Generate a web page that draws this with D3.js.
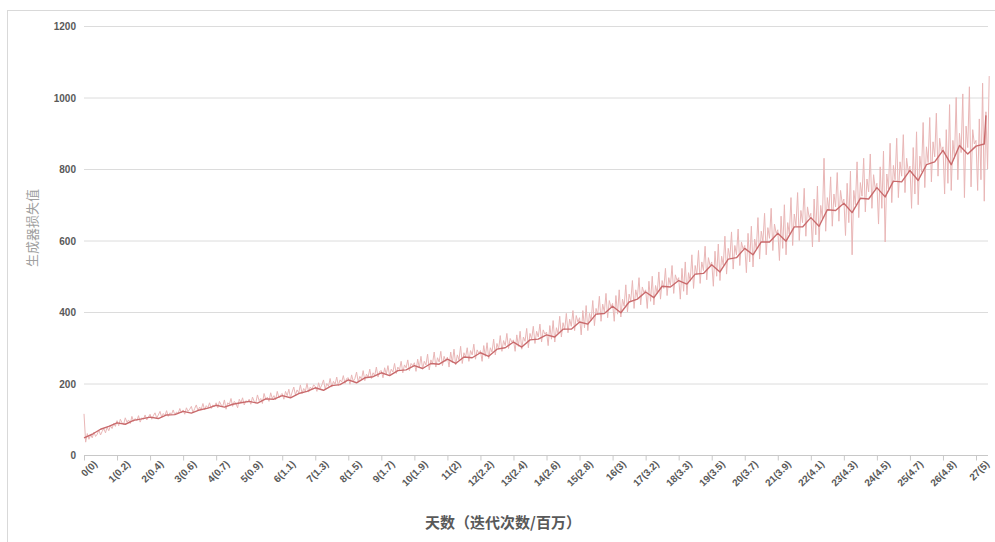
<!DOCTYPE html>
<html>
<head>
<meta charset="utf-8">
<script src="https://cdn.jsdelivr.net/npm/d3@7"></script>
<style>
  html, body { margin: 0; padding: 0; background: #fff; }
  svg { display: block; }
  .tick text { font-family: "Liberation Sans", Arial, sans-serif; }
</style>
</head>
<body>
<div id="chart"></div>
<script>
// day labels on the x axis: day(iterations in millions)
var dayLabels = ['0(0)', '1(0.2)', '2(0.4)', '3(0.6)', '4(0.7)', '5(0.9)', '6(1.1)', '7(1.3)',
  '8(1.5)', '9(1.7)', '10(1.9)', '11(2)', '12(2.2)', '13(2.4)', '14(2.6)', '15(2.8)', '16(3)',
  '17(3.2)', '18(3.3)', '19(3.5)', '20(3.7)', '21(3.9)', '22(4.1)', '23(4.3)', '24(4.5)',
  '25(4.7)', '26(4.8)', '27(5)'];

var yTicks = [0, 200, 400, 600, 800, 1000, 1200];

// raw generator loss, sampled every 0.05 day (one row per day)
var rawStep = 0.05;
var rawLoss = [
  115, 36, 60, 44, 56, 48, 64, 52, 58, 70, 56, 66, 74, 62, 78, 68, 82, 74, 88, 80,
  96, 82, 100, 90, 86, 104, 92, 98, 88, 108, 94, 102, 96, 110, 92, 104, 100, 112, 98, 106,
  114, 100, 110, 118, 104, 112, 122, 106, 116, 110, 124, 108, 118, 114, 126, 112, 120, 116, 130, 118,
  126, 114, 132, 122, 128, 136, 118, 130, 140, 124, 134, 128, 144, 126, 138, 132, 146, 130, 140, 136,
  146, 132, 150, 140, 136, 154, 128, 146, 142, 158, 136, 150, 144, 132, 156, 146, 160, 140, 152, 148,
  156, 142, 162, 150, 146, 168, 152, 158, 144, 172, 156, 162, 150, 174, 158, 166, 154, 178, 160, 168,
  172, 156, 178, 166, 184, 160, 176, 190, 168, 182, 174, 196, 172, 186, 178, 200, 176, 190, 184, 196,
  192, 178, 202, 186, 196, 210, 184, 200, 192, 214, 190, 206, 198, 218, 194, 210, 204, 222, 200, 214,
  216, 198, 224, 206, 214, 232, 204, 220, 212, 236, 208, 226, 218, 240, 214, 230, 222, 246, 218, 234,
  236, 216, 244, 226, 250, 222, 240, 232, 256, 228, 246, 238, 262, 230, 252, 244, 266, 236, 256, 250,
  258, 234, 268, 244, 276, 240, 262, 252, 282, 238, 266, 256, 288, 246, 272, 260, 290, 250, 276, 262,
  274, 246, 288, 258, 296, 252, 280, 266, 304, 256, 286, 274, 300, 262, 292, 280, 310, 268, 294, 284,
  292, 262, 306, 276, 314, 270, 300, 288, 324, 280, 312, 296, 334, 290, 320, 306, 340, 298, 326, 316,
  322, 290, 336, 304, 346, 296, 330, 318, 354, 300, 340, 324, 360, 312, 346, 330, 366, 316, 350, 338,
  344, 306, 362, 324, 376, 316, 356, 340, 388, 330, 370, 350, 396, 342, 380, 360, 404, 348, 390, 372,
  384, 336, 404, 356, 418, 348, 396, 376, 432, 362, 410, 392, 444, 374, 422, 400, 452, 384, 432, 414,
  424, 374, 446, 394, 462, 386, 436, 416, 476, 400, 450, 430, 488, 410, 462, 440, 496, 420, 470, 454,
  462, 410, 486, 430, 500, 420, 474, 452, 512, 436, 488, 466, 522, 446, 496, 474, 530, 452, 504, 488,
  496, 436, 522, 458, 540, 448, 510, 486, 560, 466, 530, 504, 572, 480, 540, 516, 584, 490, 552, 530,
  540, 472, 570, 500, 590, 488, 556, 530, 612, 506, 578, 550, 624, 520, 586, 560, 632, 530, 596, 576,
  586, 510, 620, 540, 640, 526, 604, 576, 664, 548, 626, 596, 676, 560, 636, 606, 690, 572, 646, 620,
  630, 544, 668, 578, 700, 560, 650, 618, 720, 586, 674, 640, 734, 600, 684, 650, 746, 612, 694, 664,
  676, 582, 716, 616, 752, 596, 698, 660, 830, 626, 720, 684, 778, 640, 730, 694, 790, 654, 740, 704,
  716, 614, 760, 650, 794, 560, 740, 700, 820, 664, 762, 724, 830, 680, 772, 736, 842, 690, 784, 744,
  760, 646, 806, 690, 850, 596, 786, 744, 872, 706, 810, 770, 886, 720, 820, 780, 896, 734, 830, 792,
  808, 690, 860, 730, 904, 700, 836, 792, 930, 748, 862, 818, 944, 764, 876, 834, 956, 780, 886, 850,
  862, 730, 910, 760, 980, 740, 880, 830, 1000, 770, 900, 846, 1010, 720, 920, 860, 1030, 750, 910, 870,
  880, 740, 940, 770, 1040, 710, 960, 800, 1060
];

// smoothed generator loss, sampled every 0.25 day
var smoothStep = 0.25;
var smoothLoss = [
  48, 58, 72, 80,
  90, 86, 97, 101,
  106, 102, 112, 113,
  122, 117, 126, 131,
  139, 134, 142, 146,
  150, 145, 157, 156,
  166, 160, 172, 178,
  188, 181, 194, 197,
  210, 202, 216, 219,
  230, 222, 236, 238,
  250, 242, 256, 254,
  268, 256, 274, 272,
  286, 276, 296, 300,
  316, 302, 322, 324,
  336, 330, 352, 352,
  372, 366, 394, 396,
  416, 398, 428, 436,
  456, 440, 472, 470,
  488, 478, 506, 508,
  532, 512, 548, 552,
  578, 560, 596, 596,
  620, 598, 638, 638,
  664, 640, 686, 684,
  704, 678, 718, 716,
  748, 722, 766, 764,
  796, 768, 812, 820,
  852, 812, 866, 842,
  864, 870
];
var smoothEnd = { day: 27.3, value: 950 };

var width = 995, height = 542;

var svg = d3.select('#chart').append('svg')
  .attr('width', width)
  .attr('height', height);

// outer frame
svg.append('rect')
  .attr('x', 7.5).attr('y', 10.5)
  .attr('width', width).attr('height', height)
  .attr('fill', 'none')
  .attr('stroke', '#d9d9d9');

var xScale = d3.scaleLinear().domain([0, 27]).range([84, 976]);
var yScale = d3.scaleLinear().domain([0, 1200]).range([455, 26]);

// grid lines
svg.append('g')
  .attr('class', 'grid')
  .selectAll('line')
  .data(yTicks.filter(function(d) { return d > 0; }))
  .enter().append('line')
  .attr('x1', 84).attr('x2', 988)
  .attr('y1', function(d) { return yScale(d) + 0.5; })
  .attr('y2', function(d) { return yScale(d) + 0.5; })
  .attr('stroke', '#dcdcdc')
  .attr('stroke-width', 1);

// y axis labels
var yAxis = svg.append('g')
  .attr('class', 'axis axis-y')
  .attr('transform', 'translate(84,0.5)')
  .call(d3.axisLeft(yScale).tickValues(yTicks).tickFormat(d3.format('d'))
    .tickSize(0).tickPadding(8));
yAxis.select('.domain').remove();
yAxis.selectAll('text')
  .attr('fill', '#595959')
  .style('font-size', '10px')
  .style('font-weight', 'bold');

// x axis
var xAxis = svg.append('g')
  .attr('class', 'axis axis-x')
  .attr('transform', 'translate(0,455.5)')
  .call(d3.axisBottom(xScale).tickValues(d3.range(dayLabels.length))
    .tickFormat(function(d) { return dayLabels[d]; })
    .tickSizeInner(5).tickSizeOuter(0));
xAxis.select('.domain')
  .attr('d', 'M84,0H988')
  .attr('stroke', '#c8c8c8');
xAxis.selectAll('.tick line').attr('stroke', '#c8c8c8');
xAxis.selectAll('text')
  .attr('fill', '#595959')
  .style('font-size', '10px')
  .style('font-weight', 'bold')
  .style('text-anchor', 'end')
  .attr('dx', '3')
  .attr('dy', '8')
  .attr('transform', 'rotate(-45)');

// raw series
var rawLine = d3.line()
  .x(function(d, i) { return xScale(i * rawStep); })
  .y(function(d) { return yScale(d); });

svg.append('path')
  .datum(rawLoss)
  .attr('d', rawLine)
  .attr('fill', 'none')
  .attr('stroke', '#e9b6b6')
  .attr('stroke-width', 1)
  .attr('stroke-linejoin', 'round');

// smoothed series
var smoothPts = smoothLoss.map(function(v, i) { return [i * smoothStep, v]; });
smoothPts.push([smoothEnd.day, smoothEnd.value]);

var smoothLine = d3.line()
  .x(function(d) { return xScale(d[0]); })
  .y(function(d) { return yScale(d[1]); });

svg.append('path')
  .datum(smoothPts)
  .attr('d', smoothLine)
  .attr('fill', 'none')
  .attr('stroke', '#c96a6c')
  .attr('stroke-width', 1.4)
  .attr('stroke-linejoin', 'round');

// axis titles
svg.append('text')
  .attr('transform', 'translate(37,228) rotate(-90)')
  .attr('text-anchor', 'middle')
  .attr('fill', '#a0a0a0')
  .style('font-family', '"Noto Sans CJK SC", sans-serif')
  .style('font-size', '13px')
  .text('生成器损失值');

svg.append('text')
  .attr('x', 503)
  .attr('y', 528)
  .attr('text-anchor', 'middle')
  .attr('fill', '#595959')
  .style('font-family', '"Noto Sans CJK SC", sans-serif')
  .style('font-size', '15px')
  .style('font-weight', 'bold')
  .text('天数（迭代次数/百万）');
</script>
</body>
</html>
